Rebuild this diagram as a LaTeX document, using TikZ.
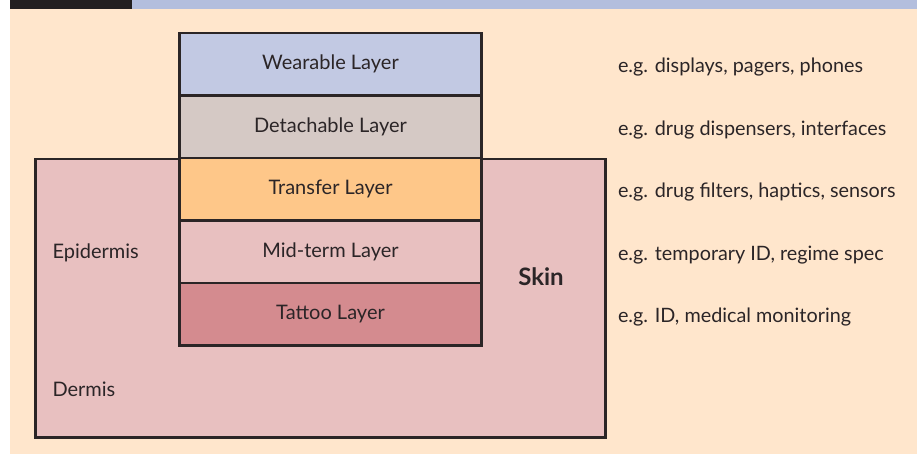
\documentclass[tikz,border=0pt]{standalone}
\usepackage{fontspec}
\setmainfont{Lato}
\usetikzlibrary{positioning}

\definecolor{pagebg}{HTML}{FFE6CC}
\definecolor{tabdark}{HTML}{231F20}
\definecolor{barblue}{HTML}{B3BEDD}
\definecolor{edge}{HTML}{2B2526}
\definecolor{ink}{HTML}{2B2527}
\definecolor{wearc}{HTML}{C2C9E3}
\definecolor{detachc}{HTML}{D5C9C5}
\definecolor{transferc}{HTML}{FEC789}
\definecolor{skinc}{HTML}{E8C0C0}
\definecolor{tattooc}{HTML}{D48B8F}

\begin{document}
\begin{tikzpicture}[x=1pt, y=-1pt,
  layer/.style={draw=edge, line width=2.5pt, outer sep=0pt, minimum width=302pt, minimum height=62.5pt, inner sep=0pt, text=ink, font=\fontsize{20}{24}\selectfont},
  note/.style={text=ink, yshift=-3pt, font=\fontsize{19.8}{24}\selectfont},
  tissue/.style={anchor=west, text=ink, font=\fontsize{20}{24}\selectfont}]
\useasboundingbox (0,0) rectangle (917,454);
% page background and title bar
\fill[pagebg] (10,9) rectangle (917,454);
\fill[tabdark] (10,0) rectangle (132,9);
\fill[barblue] (132,0) rectangle (917,9);
% skin block
\node[draw=edge, fill=skinc, line width=2.5pt, inner sep=0pt, minimum width=570pt, minimum height=278pt, anchor=north west] (skin) at (34,158) {};
\node[tissue] (epi) at (49,253) {Epidermis};
\node[tissue] (derm) at (49,389) {Dermis};
\node[text=ink, font=\fontsize{24}{28}\selectfont\bfseries] (skinlbl) at (541,277) {Skin};
% layer stack
\node[layer, fill=wearc, anchor=north west] (wear) at (179.5,33) {Wearable Layer};
\node[layer, fill=detachc, below=0pt of wear] (detach) {Detachable Layer};
\node[layer, fill=transferc, below=0pt of detach] (transfer) {Transfer Layer};
\node[layer, fill=skinc, below=0pt of transfer] (mid) {Mid-term Layer};
\node[layer, fill=tattooc, below=0pt of mid] (tattoo) {Tattoo Layer};
% examples
\node[note, right=133pt of wear] (wearnote) {e.g. displays, pagers, phones};
\node[note, right=133pt of detach] (detachnote) {e.g. drug dispensers, interfaces};
\node[note, right=133pt of transfer] (transfernote) {e.g. drug filters, haptics, sensors};
\node[note, right=133pt of mid] (midnote) {e.g. temporary ID, regime spec};
\node[note, right=133pt of tattoo] (tattoonote) {e.g. ID, medical monitoring};
\end{tikzpicture}
\end{document}
